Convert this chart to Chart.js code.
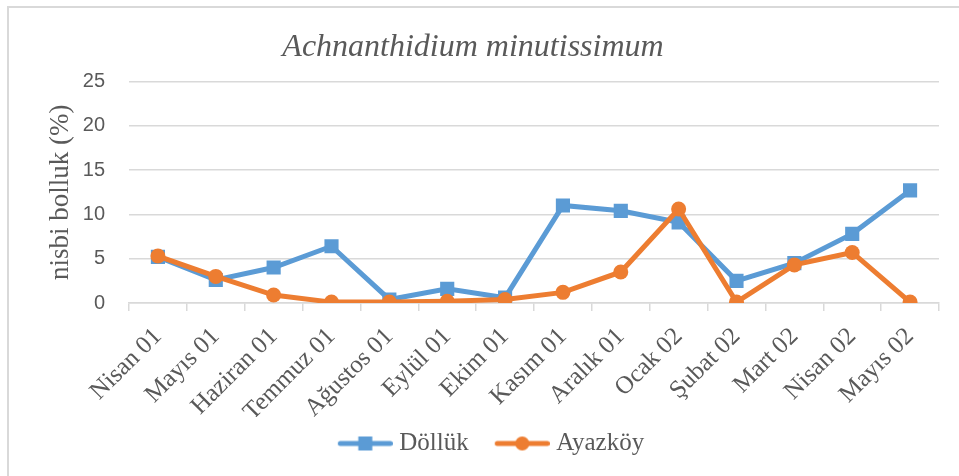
<!DOCTYPE html>
<html lang="tr">
<head>
<meta charset="UTF-8" />
<title>Achnanthidium minutissimum</title>
<script src="https://cdn.jsdelivr.net/npm/chart.js"></script>
<style>
  html, body { margin: 0; padding: 0; background: #fff; overflow: hidden; }
  .frame {
    position: absolute; left: 7px; top: 6px;
    width: 990px; height: 500px;
    border: 2px solid #d9d9d9;
  }
  #chart { position: absolute; left: 0; top: 0; }
</style>
</head>
<body>
<div class="frame"></div>
<canvas id="chart" width="959" height="476"></canvas>
<script>
  const months = ["Nisan 01", "Mayıs 01", "Haziran 01", "Temmuz 01", "Ağustos 01", "Eylül 01", "Ekim 01",
                  "Kasım 01", "Aralık 01", "Ocak 02", "Şubat 02", "Mart 02", "Nisan 02", "Mayıs 02"];
  const dollukValues  = [5.2, 2.6, 4.0, 6.4, 0.4, 1.6, 0.6, 11.0, 10.4, 9.1, 2.5, 4.5, 7.8, 12.7];
  const ayazkoyValues = [5.3, 3.0, 0.9, 0.1, 0.1, 0.2, 0.4, 1.2, 3.5, 10.6, 0.1, 4.3, 5.7, 0.1];
  const yMin = 0, yMax = 25, yStep = 5;

  const BLUE = "#5b9bd5";
  const ORANGE = "#ed7d31";
  const TEXT = "#595959";
  const GRID = "#d9d9d9";
  const SERIF = "'Liberation Serif', 'Times New Roman', serif";

  // line + marker picture for the legend entries (blank on the left = gap to previous entry)
  function legendSample(color, shape) {
    const c = document.createElement("canvas");
    c.width = 73; c.height = 18;
    const g = c.getContext("2d");
    g.strokeStyle = color;
    g.lineWidth = 5;
    g.lineCap = "round";
    g.beginPath(); g.moveTo(20.5, 9); g.lineTo(70.5, 9); g.stroke();
    g.fillStyle = color;
    if (shape === "rect") {
      g.fillRect(38.5, 2, 14, 14);
    } else {
      g.beginPath(); g.arc(45.5, 9, 7, 0, Math.PI * 2); g.fill();
    }
    return c;
  }
  const samples = [legendSample(BLUE, "rect"), legendSample(ORANGE, "circle")];

  Chart.defaults.font.family = SERIF;
  Chart.defaults.color = TEXT;

  new Chart(document.getElementById("chart"), {
    type: "line",
    data: {
      labels: months,
      datasets: [
        {
          label: "Döllük",
          data: dollukValues,
          borderColor: BLUE,
          backgroundColor: BLUE,
          borderWidth: 5,
          pointStyle: "rect",
          pointRadius: 10,
          pointBorderWidth: 0,
          pointBackgroundColor: BLUE,
          tension: 0,
          order: 1
        },
        {
          label: "Ayazköy",
          data: ayazkoyValues,
          borderColor: ORANGE,
          backgroundColor: ORANGE,
          borderWidth: 5,
          pointStyle: "circle",
          pointRadius: 7.5,
          pointBorderWidth: 0,
          pointBackgroundColor: ORANGE,
          tension: 0,
          order: 0
        }
      ]
    },
    options: {
      responsive: false,
      animation: false,
      layout: { padding: { top: 28, right: 20, bottom: 10, left: 31 } },
      plugins: {
        title: {
          display: true,
          // trailing no-break spaces nudge the centred title a little to the left
          text: "Achnanthidium minutissimum\u00a0\u00a0\u00a0",
          color: TEXT,
          font: { family: SERIF, size: 32, style: "italic", weight: "normal" },
          padding: { top: 0, bottom: 15 }
        },
        legend: {
          position: "bottom",
          labels: {
            color: TEXT,
            font: { family: SERIF, size: 25 },
            usePointStyle: true,
            pointStyleWidth: 61,
            padding: 14,
            sort: (a, b) => a.datasetIndex - b.datasetIndex,
            generateLabels: chart => {
              const items = Chart.defaults.plugins.legend.labels.generateLabels(chart);
              items.forEach(it => { it.pointStyle = samples[it.datasetIndex]; });
              return items;
            }
          }
        },
        tooltip: { enabled: false }
      },
      scales: {
        x: {
          offset: true,
          grid: {
            display: true,
            offset: true,
            drawOnChartArea: false,
            drawTicks: true,
            tickLength: 8,
            color: GRID,
            lineWidth: 1.5
          },
          border: { display: true, color: GRID, width: 1.5 },
          ticks: {
            color: TEXT,
            font: { family: SERIF, size: 25 },
            minRotation: 45,
            maxRotation: 45,
            autoSkip: false,
            padding: 11,
            labelOffset: 0
          },
          afterFit: scale => { scale.height = 114; }
        },
        y: {
          min: yMin,
          max: yMax,
          ticks: {
            stepSize: yStep,
            color: TEXT,
            font: { family: "'Liberation Sans', Arial, sans-serif", size: 20 },
            padding: 24
          },
          grid: { color: GRID, lineWidth: 1.5, drawTicks: false },
          border: { display: false },
          title: {
            display: true,
            text: "nisbi bolluk (%)",
            color: TEXT,
            font: { family: SERIF, size: 27 },
            padding: { top: 14, bottom: 0 }
          },
          afterFit: scale => { scale.width = 98; }
        }
      }
    }
  });
</script>
</body>
</html>
